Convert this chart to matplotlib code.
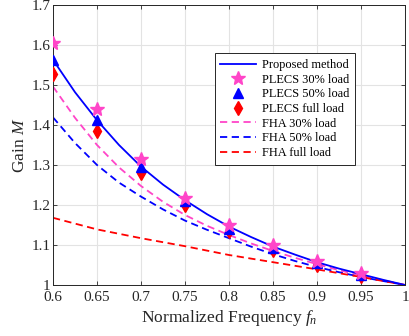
import matplotlib
matplotlib.use("Agg")
import matplotlib.pyplot as plt

plt.rcParams['font.family'] = ['Liberation Serif', 'DejaVu Serif']
plt.rcParams['mathtext.fontset'] = 'custom'
plt.rcParams['mathtext.rm'] = 'Liberation Serif'
plt.rcParams['mathtext.it'] = 'Liberation Serif:italic'

# Line curves
fn_fine = [0.6, 0.625, 0.65, 0.675, 0.7, 0.725, 0.75, 0.775, 0.8, 0.825, 0.85, 0.875, 0.9, 0.925, 0.95, 0.975, 1.0]
proposed = [1.563, 1.482, 1.412, 1.350, 1.296, 1.251, 1.212, 1.177, 1.146, 1.120, 1.096, 1.076, 1.057, 1.041, 1.027, 1.013, 1.0]
fha_30 = [1.496, 1.418, 1.350, 1.294, 1.2475, 1.208, 1.175, 1.148, 1.125, 1.104, 1.085, 1.068, 1.052, 1.037, 1.024, 1.012, 1.0]
fha_50 = [1.419, 1.355, 1.300, 1.256, 1.221, 1.189, 1.161, 1.138, 1.117, 1.096, 1.077, 1.060, 1.045, 1.032, 1.020, 1.010, 1.0]
fn_coarse = [0.6, 0.65, 0.7, 0.75, 0.8, 0.85, 0.9, 0.95, 1.0]
fha_full = [1.168, 1.139, 1.117, 1.097, 1.075, 1.057, 1.039, 1.020, 1.0]

# PLECS simulation points
fn_pts = [0.6, 0.65, 0.7, 0.75, 0.8, 0.85, 0.9, 0.95]
plecs_30 = [1.604, 1.441, 1.314, 1.218, 1.151, 1.100, 1.061, 1.029]
plecs_50 = [1.5625, 1.412, 1.296, 1.210, 1.139, 1.093, 1.054, 1.025]
plecs_full = [1.527, 1.385, 1.279, 1.199, 1.134, 1.088, 1.050, 1.022]

xticks = [0.6, 0.65, 0.7, 0.75, 0.8, 0.85, 0.9, 0.95, 1.0]
xticklabels = ['0.6', '0.65', '0.7', '0.75', '0.8', '0.85', '0.9', '0.95', '1']
yticks = [1.0, 1.1, 1.2, 1.3, 1.4, 1.5, 1.6, 1.7]
yticklabels = ['1', '1.1', '1.2', '1.3', '1.4', '1.5', '1.6', '1.7']

blue = '#0000ff'
pink = '#ff45c8'
red = '#ff0000'

fig = plt.figure(figsize=(4.1, 3.36), dpi=100)
ax = fig.add_axes([0.1293, 0.1518, 0.8585, 0.8333])

h_prop, = ax.plot(fn_fine, proposed, color=blue, lw=1.3, label='Proposed method', zorder=3)
h_f30, = ax.plot(fn_fine, fha_30, color=pink, lw=1.3, ls=(0, (4, 2.5)), label='FHA 30% load', zorder=2)
h_f50, = ax.plot(fn_fine, fha_50, color=blue, lw=1.3, ls=(0, (4, 2.5)), label='FHA 50% load', zorder=2)
h_ffull, = ax.plot(fn_coarse, fha_full, color=red, lw=1.3, ls=(0, (4, 2.5)), label='FHA full load', zorder=2)
h_pfull, = ax.plot(fn_pts, plecs_full, ls='none', marker='d', ms=7, color=red, label='PLECS full load', zorder=4)
h_p50, = ax.plot(fn_pts, plecs_50, ls='none', marker='^', ms=7.5, color=blue, label='PLECS 50% load', zorder=5)
h_p30, = ax.plot(fn_pts, plecs_30, ls='none', marker='*', ms=10, color=pink, label='PLECS 30% load', zorder=6)

ax.set_xlim(0.6, 1.0)
ax.set_ylim(1.0, 1.7)
ax.set_xticks(xticks)
ax.set_xticklabels(xticklabels)
ax.set_yticks(yticks)
ax.set_yticklabels(yticklabels)
ax.grid(True, color='#e3e3e3', lw=0.8)
ax.set_axisbelow(True)
ax.tick_params(direction='in', top=True, right=True, length=3, width=0.6, colors='#262626',
               labelsize=11, labelcolor='#262626')
ax.tick_params(axis='x', pad=4)
ax.tick_params(axis='y', pad=2)
for s in ax.spines.values():
    s.set_color('#262626')
    s.set_linewidth(0.7)

ax.set_xlabel('Normalized Frequency $f_n$', fontsize=12.5, color='#262626', labelpad=3)
ax.set_ylabel('Gain $M$', fontsize=12.5, color='#262626', labelpad=2)

leg = ax.legend([h_prop, h_p30, h_p50, h_pfull, h_f30, h_f50, h_ffull],
                ['Proposed method', 'PLECS 30% load', 'PLECS 50% load', 'PLECS full load',
                 'FHA 30% load', 'FHA 50% load', 'FHA full load'],
                loc='upper left', bbox_to_anchor=(0.459, 0.8275), borderaxespad=0, fontsize=8.9,
                frameon=True, fancybox=False, edgecolor='#262626', framealpha=1,
                handlelength=2.9, labelspacing=0.22, borderpad=0.45, handletextpad=0.5)
leg.get_frame().set_linewidth(0.7)

fig.savefig('out.png', dpi=100)
